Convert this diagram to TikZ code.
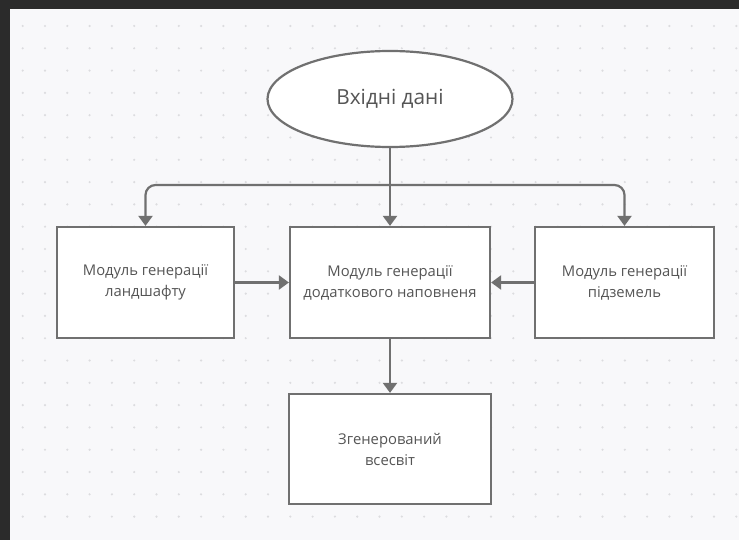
\documentclass[tikz,border=0pt]{standalone}
\usepackage{fontspec}
\setmainfont{Open Sans}
\usepackage{tikz}
\usetikzlibrary{arrows.meta,shapes.geometric}

\definecolor{frame}{HTML}{2B2B2B}
\definecolor{paper}{HTML}{F8F8FA}
\definecolor{dotc}{HTML}{DCDCDF}
\definecolor{linec}{HTML}{707070}
\definecolor{textc}{HTML}{555555}

\begin{document}
\begin{tikzpicture}[x=1pt,y=-1pt,
  block/.style={draw=linec,line width=2.2pt,fill=white,align=center,
    text=textc,font=\fontsize{14.8}{21}\selectfont,inner sep=0pt},
  conn/.style={draw=linec,line width=2.2pt,-{Triangle[length=10pt,width=14pt]}}]
\useasboundingbox (0,0) rectangle (739,540);
\fill[frame] (0,0) rectangle (739,540);
\fill[paper] (10,9) rectangle (739,540);
% dot grid
\foreach \i in {0,...,32}
  \foreach \j in {0,...,22}
    \fill[dotc] (22.7+22.3*\i,26+22.3*\j) circle (1.2pt);

\node[block,ellipse,minimum width=245pt,minimum height=96pt,
  font=\fontsize{20.8}{25}\selectfont] (input) at (390,99) {Вхідні дані};
\node[block,minimum width=177pt,minimum height=111pt] (land) at (145.5,282.5)
  {Модуль генерації\\ландшафту};
\node[block,minimum width=200pt,minimum height=111pt] (fill) at (390,282.5)
  {Модуль генерації\\додаткового наповненя};
\node[block,minimum width=179pt,minimum height=111pt] (dung) at (624.5,282.5)
  {Модуль генерації\\підземель};
\node[block,minimum width=202pt,minimum height=110pt] (world) at (390,449)
  {Згенерований\\всесвіт};

\coordinate (split) at (390,185);
\draw[conn] (input.south) -- (fill.north);
\draw[conn,rounded corners=10pt] (split) -| (land.north);
\draw[conn,rounded corners=10pt] (split) -| (dung.north);
\draw[conn] (land.east) -- (fill.west);
\draw[conn] (dung.west) -- (fill.east);
\draw[conn] (fill.south) -- (world.north);
\end{tikzpicture}
\end{document}
